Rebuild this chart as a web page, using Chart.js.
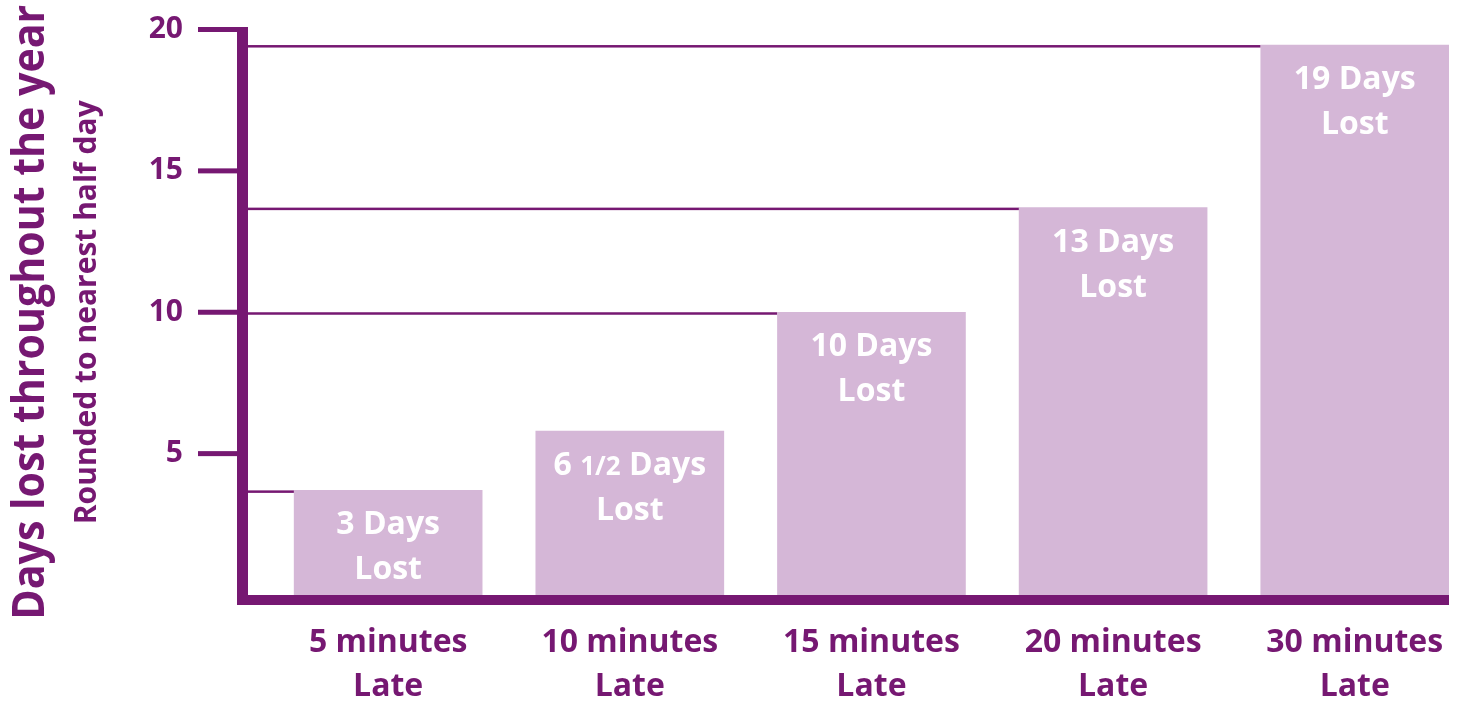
<!DOCTYPE html>
<html><head><meta charset="utf-8">
<script src="https://cdn.jsdelivr.net/npm/chart.js@4"></script>
<style>html,body{margin:0;padding:0;background:#fff}#wrap{width:1464px;height:705px;position:relative}</style>
</head><body><div id="wrap"><canvas id="c"></canvas></div>
<script>
const categories = [['5 minutes','Late'],['10 minutes','Late'],['15 minutes','Late'],['20 minutes','Late'],['30 minutes','Late']];
const daysLost = [3.7, 5.8, 10, 13.7, 19.45];
const barLabels = [['3 Days','Lost'],['6 1/2 Days','Lost'],['10 Days','Lost'],['13 Days','Lost'],['19 Days','Lost']];
const yTicks = [5, 10, 15, 20];
const refLine = [true, false, true, true, true];
const yTitle = 'Days lost throughout the year';
const ySubtitle = 'Rounded to nearest half day';

const PURPLE = '#761872';
const BAR = '#d5b7d7';
const FONT = '"Open Sans", "DejaVu Sans", sans-serif';

function drawMixed(ctx, text, cx, baseline) {
  const parts = text.split(/(1\/2)/).filter(s => s.length);
  const fonts = parts.map(p => p === '1/2' ? '700 26px ' + FONT : '700 32px ' + FONT);
  let total = 0;
  const widths = parts.map((p, i) => { ctx.font = fonts[i]; const w = ctx.measureText(p).width; total += w; return w; });
  let x = cx - total / 2;
  ctx.textAlign = 'left';
  parts.forEach((p, i) => { ctx.font = fonts[i]; ctx.fillText(p, x, baseline); x += widths[i]; });
}

const deco = {
  id: 'deco',
  beforeDatasetsDraw(chart) {
    const {ctx, chartArea: a} = chart;
    const meta = chart.getDatasetMeta(0);
    ctx.save();
    ctx.fillStyle = PURPLE;
    meta.data.forEach((bar, i) => {
      if (!refLine[i]) return;
      const left = bar.x - bar.width / 2;
      ctx.fillRect(a.left, bar.y, left - a.left, 2.5);
    });
    ctx.restore();
  },
  afterDatasetsDraw(chart) {
    const {ctx, chartArea: a, scales: {y}} = chart;
    const meta = chart.getDatasetMeta(0);
    ctx.save();
    ctx.fillStyle = PURPLE;
    const top20 = y.getPixelForValue(20) - 2.5;
    ctx.fillRect(a.left - 11, top20, 11, a.bottom + 10 - top20);
    ctx.fillRect(a.left - 11, a.bottom, a.right - (a.left - 11), 10);
    yTicks.forEach(v => {
      const py = y.getPixelForValue(v);
      ctx.fillRect(a.left - 50, py - 2.5, 39, 5);
    });
    // bar labels
    ctx.fillStyle = '#ffffff';
    ctx.textBaseline = 'alphabetic';
    meta.data.forEach((bar, i) => {
      const lines = barLabels[i];
      drawMixed(ctx, lines[0], bar.x, bar.y + 44);
      drawMixed(ctx, lines[1], bar.x, bar.y + 89);
    });
    // axis titles
    ctx.fillStyle = PURPLE;
    ctx.textAlign = 'center';
    const cy = (a.top + a.bottom) / 2;
    ctx.save();
    ctx.translate(44, cy);
    ctx.rotate(-Math.PI / 2);
    ctx.font = '700 44px ' + FONT;
    ctx.fillText(yTitle, 0, 0, 615);
    ctx.restore();
    ctx.save();
    ctx.translate(96, cy);
    ctx.rotate(-Math.PI / 2);
    ctx.font = '700 30px ' + FONT;
    ctx.fillText(ySubtitle, 0, 0, 425);
    ctx.restore();
    ctx.restore();
  }
};

new Chart(document.getElementById('c'), {
  type: 'bar',
  data: {
    datasets: [{
      data: daysLost.map((v, i) => ({x: i, y: v})),
      backgroundColor: BAR,
      borderWidth: 0,
      barThickness: 188
    }]
  },
  options: {
    responsive: true,
    maintainAspectRatio: false,
    animation: false,
    layout: {padding: {left: 100, top: 29.5, right: 15, bottom: 0}},
    plugins: {legend: {display: false}, tooltip: {enabled: false}},
    scales: {
      x: {
        type: 'linear',
        min: -0.58,
        max: 4.39,
        offset: false,
        grid: {display: false, drawTicks: true, tickLength: 25},
        border: {display: false},
        afterBuildTicks: axis => { axis.ticks = categories.map((c, i) => ({value: i})); },
        afterFit: axis => { axis.height = 110; },
        ticks: {
          autoSkip: false,
          maxRotation: 0,
          padding: 0,
          color: PURPLE,
          font: {family: FONT, size: 32, weight: '700', lineHeight: 1.4},
          callback: v => categories[v]
        }
      },
      y: {
        min: 0,
        max: 20,
        grid: {display: false, drawTicks: true, tickLength: 55},
        border: {display: false},
        afterFit: axis => { axis.width = 148; },
        afterBuildTicks: axis => { axis.ticks = yTicks.map(v => ({value: v})); },
        ticks: {
          padding: 10,
          color: PURPLE,
          font: {family: FONT, size: 30, weight: '700'}
        }
      }
    }
  },
  plugins: [deco]
});
</script>
</body></html>
